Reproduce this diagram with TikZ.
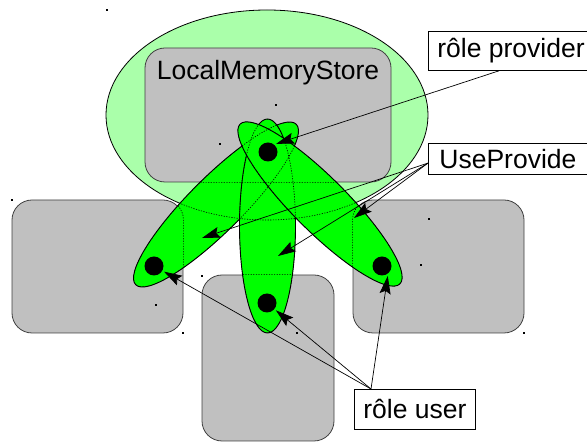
\documentclass[tikz,border=0pt]{standalone}
\usepackage{fontspec}
\setmainfont{Liberation Sans}
\usetikzlibrary{arrows.meta}

\definecolor{verdeclaro}{RGB}{170,255,170}
\definecolor{verde}{RGB}{0,255,0}
\definecolor{gris}{RGB}{192,192,192}

\newcommand{\fuente}{\fontsize{26.5pt}{31pt}\selectfont}
% Contornos de los lobulos (se usan dos veces)
\newcommand{\lobI}{(216,204.5) ellipse [x radius=113.5pt, y radius=27pt, rotate=45]}
\newcommand{\lobC}{(267.5,226) ellipse [x radius=28pt, y radius=107pt]}
\newcommand{\lobD}{(320,204) ellipse [x radius=113pt, y radius=27pt, rotate=-45]}

\tikzset{
  caja/.style={draw=black!75, fill=gris, rounded corners=20pt, line width=0.8pt, inner sep=0pt},
  lobulo/.style={draw=black, fill=verde, line width=0.9pt},
  oculto/.style={draw=black, line width=0.6pt, dash pattern=on 1.2pt off 1.4pt},
  punto/.style={circle, fill=black, minimum size=19pt, inner sep=0pt, outer sep=2pt},
  etiqueta/.style={draw=black, fill=white, line width=0.8pt, inner xsep=9pt, inner ysep=0pt, anchor=north west, font=\fuente},
  flecha/.style={-{Stealth[length=18pt, width=11pt, inset=3pt]}, line width=0.7pt},
}

\begin{document}
\begin{tikzpicture}[x=1pt, y=-1pt]
    \useasboundingbox (0,0) rectangle (587,443);

    % Ambito del almacen
    \draw[fill=verdeclaro, line width=0.8pt] (267,115) ellipse [x radius=161pt, y radius=105pt];

    % Cajas grises
    \node[caja, minimum width=246pt, minimum height=134pt,
          label={[anchor=north, inner sep=0pt, yshift=-13pt, font=\fuente]north:LocalMemoryStore}]
          (lms) at (268,115) {};
    \node[caja, minimum width=171pt, minimum height=133pt] (cajaI) at (97.5,266.5) {};
    \node[caja, minimum width=171pt, minimum height=133pt] (cajaD) at (438.5,266.5) {};
    \node[caja, minimum width=132pt, minimum height=166pt] (cajaB) at (268,358) {};

    % Lobulos UseProvide
    \draw[lobulo] \lobI;
    \draw[lobulo] \lobC;
    \draw[lobulo] \lobD;

    % Lineas ocultas bajo los lobulos
    \begin{scope}
        \clip \lobI \lobC \lobD;
        \draw[oculto] (267,115) ellipse [x radius=161pt, y radius=105pt];
        \foreach \c in {lms,cajaI,cajaD,cajaB}
            \draw[oculto, rounded corners=20pt] (\c.south west) rectangle (\c.north east);
        \draw[oculto] \lobI \lobC \lobD;
    \end{scope}

    % Puntos
    \node[punto] (provdot) at (268,152) {};
    \node[punto] (dotI) at (154,266) {};
    \node[punto] (dotC) at (267,303) {};
    \node[punto] (dotD) at (382,266) {};

    % Marcas sueltas
    \foreach \px/\py in {107/10, 276/105, 220/144, 202/276, 156/305, 297/333, 421/265, 429/219, 12/200, 183/333, 524/333}
        \fill (\px-0.6,\py-0.6) rectangle ++(1.3,1.3);

    % Etiquetas
    \node[etiqueta, minimum height=39pt] (rolprov) at (428,31) {rôle provider};
    \node[etiqueta, minimum height=31pt, inner xsep=11pt] (useprov) at (428,143) {UseProvide};
    \node[etiqueta, minimum height=40pt] (roluser) at (354,389) {rôle user};

    % Destinos de UseProvide
    \coordinate (upI) at (202,238);
    \coordinate (upC) at (278,256);
    \coordinate (upD) at (354,218);

    % Flechas
    \draw[flecha] ([xshift=-12pt]rolprov.south) -- (provdot.45);
    \draw[flecha] (useprov.183) -- (upI);
    \draw[flecha] (useprov.183) -- (upC);
    \draw[flecha] (useprov.183) -- (upD);
    \draw[flecha] ([xshift=17pt]roluser.north west) -- (dotI);
    \draw[flecha] ([xshift=17pt]roluser.north west) -- (dotC);
    \draw[flecha] ([xshift=17pt]roluser.north west) -- (dotD.-60);
\end{tikzpicture}
\end{document}
